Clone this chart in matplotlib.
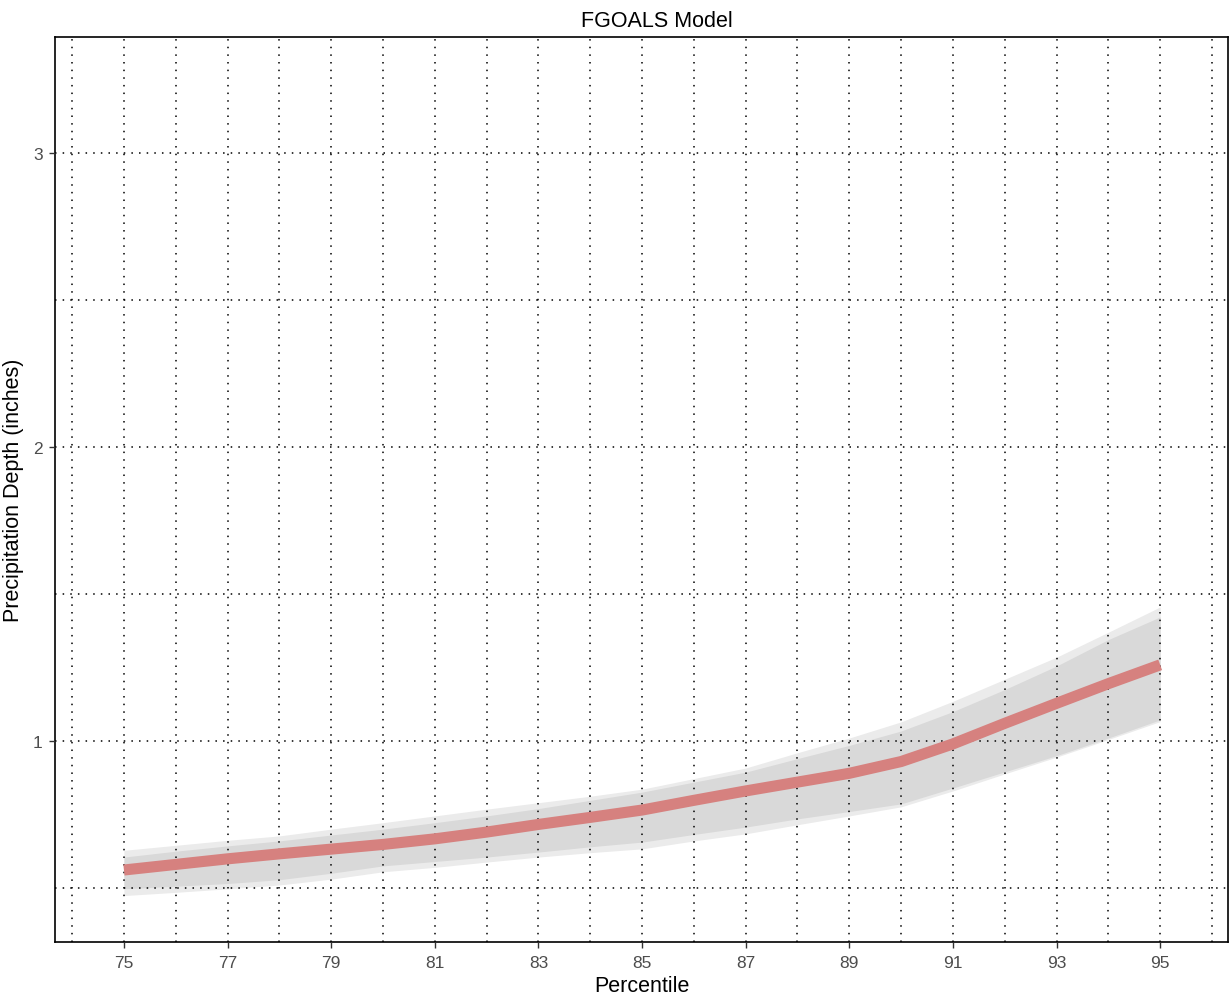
import matplotlib
matplotlib.use('Agg')
import matplotlib.pyplot as plt
import numpy as np

plt.rcParams['font.family'] = ['Liberation Sans', 'DejaVu Sans']

# percentiles and model values
percentile = [75, 76, 77, 78, 79, 80, 81, 82, 83, 84, 85,
              86, 87, 88, 89, 90, 91, 92, 93, 94, 95]
depth = [0.561, 0.580, 0.599, 0.616, 0.632, 0.648, 0.667, 0.690, 0.716, 0.740, 0.765,
         0.798, 0.830, 0.860, 0.890, 0.930, 0.990, 1.060, 1.128, 1.195, 1.259]
outer_hi = [0.628, 0.645, 0.662, 0.677, 0.700, 0.722, 0.745, 0.768, 0.790, 0.812, 0.836,
            0.872, 0.908, 0.960, 1.010, 1.065, 1.135, 1.210, 1.285, 1.370, 1.456]
inner_hi = [0.605, 0.625, 0.643, 0.660, 0.680, 0.700, 0.722, 0.745, 0.770, 0.798, 0.826,
            0.860, 0.894, 0.940, 0.985, 1.034, 1.100, 1.175, 1.255, 1.345, 1.422]
inner_lo = [0.497, 0.506, 0.515, 0.528, 0.550, 0.575, 0.590, 0.605, 0.622, 0.640, 0.656,
            0.682, 0.707, 0.735, 0.760, 0.786, 0.840, 0.895, 0.950, 1.010, 1.072]
outer_lo = [0.474, 0.485, 0.497, 0.510, 0.530, 0.555, 0.570, 0.588, 0.605, 0.620, 0.633,
            0.660, 0.684, 0.715, 0.745, 0.776, 0.830, 0.888, 0.945, 1.005, 1.066]

fig = plt.figure(figsize=(12.31, 10.03), dpi=100)
ax = fig.add_axes([0.0447, 0.0598, 0.9529, 0.9023])

ax.fill_between(percentile, outer_lo, outer_hi, color='#ebebeb', linewidth=0, zorder=1)
ax.fill_between(percentile, inner_lo, inner_hi, color='#d9d9d9', linewidth=0, zorder=2)
ax.plot(percentile, depth, color='#d6817f', linewidth=8, solid_capstyle='butt', zorder=3)

ax.set_xlim(73.67, 96.31)
ax.set_ylim(0.316, 3.395)
ax.set_xticks(np.arange(75, 96, 2))
ax.set_xticks(np.arange(74, 97, 1), minor=True)
ax.set_yticks([1, 2, 3])
ax.set_yticks([0.5, 1.5, 2.5], minor=True)
ax.grid(which='both', color='black', linestyle=(0, (1, 4)), linewidth=1.1, zorder=4)
ax.set_axisbelow(False)
ax.tick_params(which='minor', length=0)
ax.tick_params(which='major', length=4, width=1, color='#333333',
               labelsize=12.5, labelcolor='#4d4d4d', pad=5)
for s in ax.spines.values():
    s.set_linewidth(1.2)
    s.set_color('black')

ax.set_title('FGOALS Model', fontsize=15.5, x=0.513, pad=8)
ax.set_xlabel('Percentile', fontsize=15.5, labelpad=4)
ax.set_ylabel('Precipitation Depth (inches)', fontsize=15.5, labelpad=6)

fig.savefig('out.png', dpi=100)
